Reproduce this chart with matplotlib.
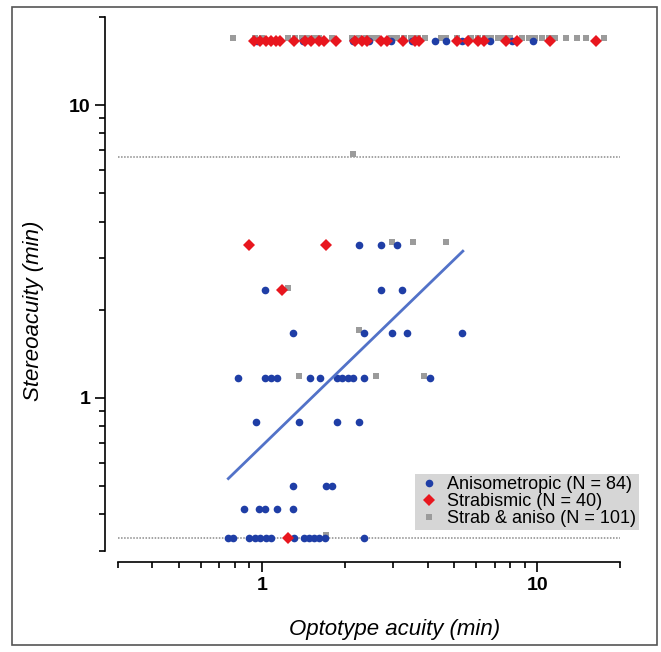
import matplotlib
matplotlib.use("Agg")
import matplotlib.pyplot as plt
from matplotlib.patches import Rectangle
from matplotlib.ticker import LogLocator, NullFormatter

plt.rcParams["font.family"] = ["Liberation Sans", "DejaVu Sans"]

# optotype acuity (min) / stereoacuity (min)
aniso_x = [0.959, 1.416, 2.143, 2.446, 2.935, 3.522, 4.250, 4.679, 5.342, 6.759, 8.131, 9.674,
           2.25, 2.70, 3.09,
           1.03, 2.70, 3.24,
           1.30, 2.35, 2.96, 3.38, 5.34,
           0.82, 1.03, 1.08, 1.13, 1.49, 1.63, 1.87, 1.96, 2.06, 2.14, 2.35, 4.08,
           0.95, 1.36, 1.87, 2.25,
           1.30, 1.71, 1.79,
           0.86, 0.98, 1.03, 1.13, 1.30,
           0.756, 0.782, 0.898, 0.944, 0.984, 1.031, 1.077, 1.307, 1.428, 1.488, 1.551, 1.617,
           1.695, 2.347]
aniso_y = [16.5] * 12 + [3.33] * 3 + [2.33] * 3 + [1.67] * 5 + [1.17] * 12 + [0.83] * 4 \
    + [0.5] * 3 + [0.417] * 5 + [0.333] * 14

strab_x = [0.936, 0.984, 1.031, 1.075, 1.123, 1.168, 1.307, 1.440, 1.509, 1.607, 1.685, 1.857,
           2.179, 2.314, 2.412, 2.718, 2.847, 3.243, 3.601, 3.732, 5.125, 5.602, 6.120, 6.394,
           7.691, 8.475, 11.11, 16.35,
           0.898, 1.713,
           1.187,
           1.243]
strab_y = [16.5] * 28 + [3.33] * 2 + [2.33] + [0.333]

both_x = [0.785, 0.944, 1.0, 1.240, 1.314, 1.404, 1.464, 1.551, 1.617, 1.800, 2.125, 2.252,
          2.386, 2.507, 2.614, 2.935, 3.085, 3.270, 3.493, 3.601, 3.701, 3.922, 4.478, 4.668,
          5.112, 5.741, 6.085, 6.447, 6.775, 7.178, 7.607, 7.997, 8.831, 9.359, 9.835, 10.42,
          11.04, 11.61, 12.72, 13.93, 15.01, 17.42,
          2.143,
          2.96, 3.55, 4.67,
          1.24,
          2.25,
          1.36, 2.59, 3.89,
          1.71]
both_y = [16.9] * 42 + [6.8] + [3.4] * 3 + [2.38] + [1.7] + [1.19] * 3 + [0.34]

fit_x = [0.755, 5.37]
fit_y = [0.53, 3.17]

ref_lines = [0.333, 6.67]

labels = ["Anisometropic (N = 84)", "Strabismic (N = 40)", "Strab & aniso (N = 101)"]

fig = plt.figure(figsize=(6.61, 6.52), dpi=100)
ax = fig.add_axes([0.1785, 0.155, 0.7595, 0.819])

for yv in ref_lines:
    ax.axhline(yv, color="#8a8a8a", lw=1.1, ls=(0, (1, 1)), zorder=1)

ax.plot(both_x, both_y, "s", color="#9b9b9b", ms=5, mew=0, ls="none", label=labels[2], zorder=2)
ax.plot(aniso_x, aniso_y, "o", color="#1f3ea6", ms=5.5, mew=0, ls="none", label=labels[0], zorder=3)
ax.plot(strab_x, strab_y, "D", color="#e8161e", ms=6, mew=0, ls="none", label=labels[1], zorder=4)
ax.plot(fit_x, fit_y, color="#5272c8", lw=2, zorder=3)

ax.set_xscale("log")
ax.set_yscale("log")
ax.set_xlim(0.3, 20)
ax.set_ylim(0.3, 20)

for side in ["top", "right"]:
    ax.spines[side].set_visible(False)
ax.spines["left"].set_position(("outward", 9))
ax.spines["bottom"].set_position(("outward", 8))
for side in ["left", "bottom"]:
    ax.spines[side].set_linewidth(1.2)

for axis in [ax.xaxis, ax.yaxis]:
    axis.set_minor_locator(LogLocator(base=10, subs=range(2, 10)))
    axis.set_minor_formatter(NullFormatter())
ax.set_xticks([1, 10])
ax.set_xticklabels(["1", "10"])
ax.set_yticks([1, 10])
ax.set_yticklabels(["1", "10"])
ax.tick_params(which="major", direction="out", length=7, width=1.2, labelsize=14, pad=4)
ax.tick_params(which="minor", direction="out", length=4, width=1.2)
for lab in ax.get_xticklabels() + ax.get_yticklabels():
    lab.set_fontweight("bold")

ax.set_xlabel("Optotype acuity (min)", fontsize=16, style="italic")
ax.set_ylabel("Stereoacuity (min)", fontsize=16, style="italic")
ax.xaxis.set_label_coords(0.55, -0.127)
ax.yaxis.set_label_coords(-0.148, 0.45)

handles, labs = ax.get_legend_handles_labels()
order = [1, 2, 0]
leg = ax.legend([handles[i] for i in order], [labs[i] for i in order],
                loc="lower right", bbox_to_anchor=(0.966, 0.187), bbox_transform=fig.transFigure,
                fontsize=13, frameon=True, fancybox=False, framealpha=1,
                facecolor="#d6d6d6", edgecolor="none", borderpad=0.15,
                labelspacing=0.0, handletextpad=0.4, handlelength=1.2, borderaxespad=0)

fig.patches.append(Rectangle((12 / 661, 7 / 652), 645 / 661, 638 / 652, transform=fig.transFigure,
                             fill=False, edgecolor="#555555", lw=1.2))

fig.savefig("out.png", dpi=100)
